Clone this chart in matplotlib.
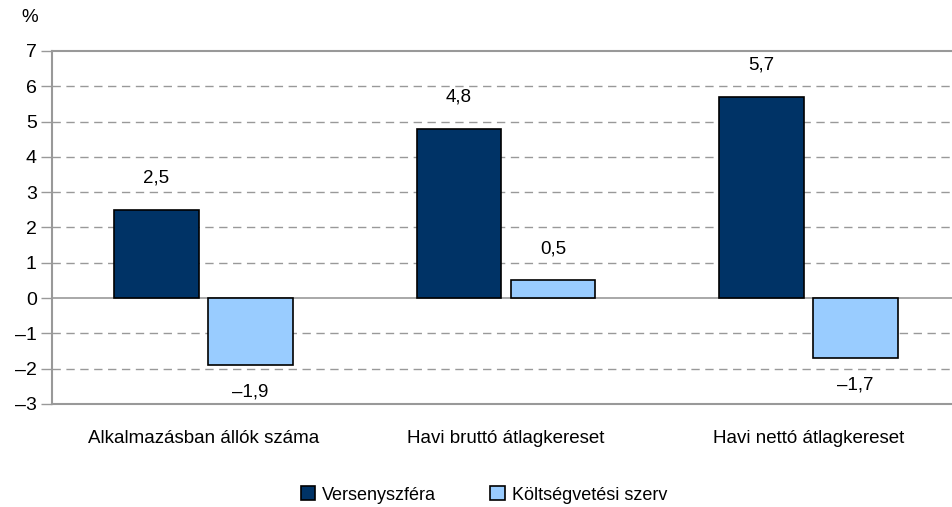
import matplotlib.pyplot as plt
import numpy as np

plt.rcParams['font.family'] = ['Liberation Sans', 'DejaVu Sans']

categories = ['Alkalmazásban állók száma', 'Havi bruttó átlagkereset', 'Havi nettó átlagkereset']
series_names = ['Versenyszféra', 'Költségvetési szerv']
verseny = [2.5, 4.8, 5.7]
koltseg = [-1.9, 0.5, -1.7]
yticks = list(range(-3, 8))

def fmt(v):
    s = ('%.1f' % abs(v)).replace('.', ',')
    return ('–' + s) if v < 0 else s

fig = plt.figure(figsize=(9.53, 5.07), dpi=100)
W, H = 953, 507
ax = fig.add_axes([52 / W, 1 - 404 / H, 908 / W, (404 - 51) / H])

x = np.arange(len(categories))
bw = 0.28
off = 0.155
ax.bar(x - off, verseny, bw, color='#003366', edgecolor='black', linewidth=1.2, zorder=3,
       label=series_names[0])
ax.bar(x + off, koltseg, bw, color='#99ccff', edgecolor='black', linewidth=1.2, zorder=3,
       label=series_names[1])

# data labels above positive bars, below negative ones
for xs, vals in ((x - off, verseny), (x + off, koltseg)):
    for xi, v in zip(xs, vals):
        y = v + 0.9 if v >= 0 else v - 0.75
        ax.text(xi, y, fmt(v), ha='center', va='center', fontsize=13.5)

ax.set_xlim(-0.5, 2.5)
ax.set_ylim(-3, 7)
ax.set_yticks(yticks)
ax.set_yticklabels([('–%d' % -t) if t < 0 else str(t) for t in yticks], fontsize=14)
ax.set_xticks([])
for t in yticks:
    if t in (0, 7, -3):
        continue
    ax.axhline(t, color='#999999', linestyle=(0, (6, 4)), linewidth=1, zorder=1)
ax.axhline(0, color='#999999', linewidth=1.2, zorder=2)

for s in ['left', 'top', 'bottom']:
    ax.spines[s].set_color('#999999')
    ax.spines[s].set_linewidth(1.5)
ax.spines['right'].set_visible(False)
ax.tick_params(axis='y', length=8, color='#999999', width=1, pad=3)

for xi, c in zip(x, categories):
    ax.text(xi, -3.98, c, ha='center', va='center', fontsize=13.5)

fig.text(30 / W, 1 - 18 / H, '%', ha='center', va='center', fontsize=13.5)

fig.legend(loc='center', bbox_to_anchor=(484 / W, 1 - 495 / H), ncol=2, frameon=False,
           fontsize=13, handlelength=0.8, handleheight=0.8, handletextpad=0.4,
           columnspacing=3.0)

fig.savefig('out.png', dpi=100)
